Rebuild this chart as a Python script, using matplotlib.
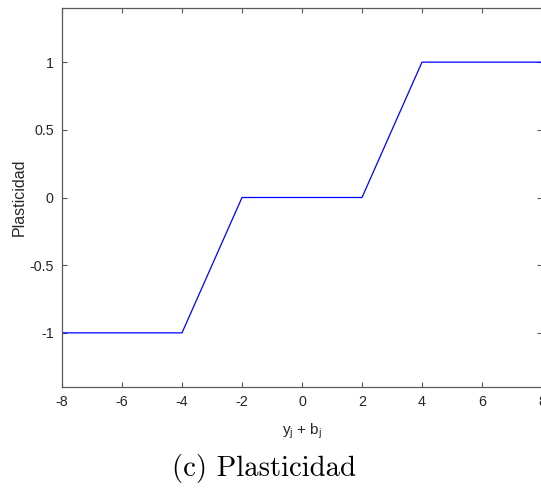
import matplotlib.pyplot as plt

plt.rcParams['axes.unicode_minus'] = False
plt.rcParams['font.family'] = ['Liberation Sans', 'DejaVu Sans']
plt.rcParams['mathtext.fontset'] = 'custom'
plt.rcParams['mathtext.rm'] = 'Liberation Sans'
plt.rcParams['mathtext.it'] = 'Liberation Sans'

# data: piecewise plasticity function
x_vals = [-8, -4, -2, 2, 4, 8]
y_vals = [-1, -1, 0, 0, 1, 1]
x_ticks = [-8, -6, -4, -2, 0, 2, 4, 6, 8]
y_ticks = [-1, -0.5, 0, 0.5, 1]
y_ticklabels = ['-1', '-0.5', '0', '0.5', '1']

W, H = 541, 490
fig = plt.figure(figsize=(W / 100, H / 100), dpi=100)
ax = fig.add_axes([62 / W, 1 - 387 / H, 480 / W, 379 / H])

ax.plot(x_vals, y_vals, color='#0000ff', lw=0.9)
ax.set_xlim(-8, 8)
ax.set_ylim(-1.4, 1.4)
ax.set_xticks(x_ticks)
ax.set_xticklabels([str(t) for t in x_ticks])
ax.set_yticks(y_ticks)
ax.set_yticklabels(y_ticklabels)

axcol = '#262626'
for s in ax.spines.values():
    s.set_color('#5a5a5a')
    s.set_linewidth(0.9)
ax.tick_params(direction='in', length=3.5, width=0.8, color='#5a5a5a',
               labelsize=10.3, labelcolor=axcol, top=True, right=True, pad=6)

ax.set_xlabel(r'y$_\mathrm{j}$ + b$_\mathrm{j}$', fontsize=11, color=axcol)
ax.set_ylabel('Plasticidad', fontsize=11.5, color=axcol)
ax.xaxis.set_label_coords(0.5, 1 - (431 - 8) / 379, transform=ax.transAxes)
ax.xaxis.label.set_va('center')
ax.yaxis.set_label_coords(-(62 - 19) / 480, 0.5)
ax.yaxis.label.set_va('center')

fig.text(0.5 * (172 + 355) / W, 1 - 468 / H, '(c) Plasticidad', family='cmr10',
         fontsize=20.7, ha='center', va='center', color='black')

fig.savefig('out.png', dpi=100)
